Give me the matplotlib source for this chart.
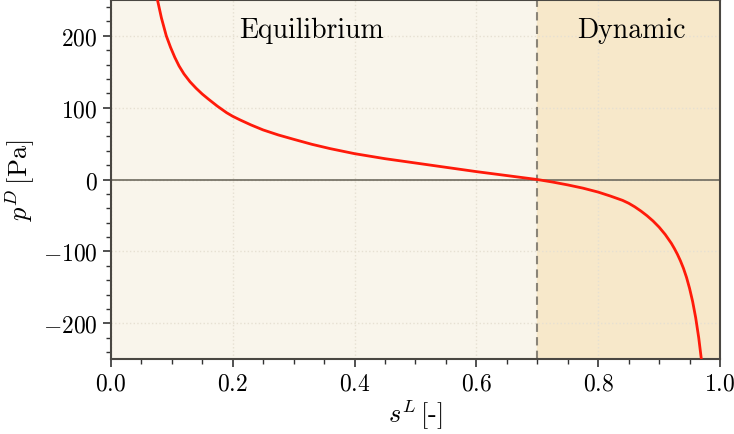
import matplotlib
matplotlib.use("Agg")
import matplotlib.pyplot as plt
from matplotlib.ticker import MultipleLocator

plt.rcParams['font.family'] = 'serif'
plt.rcParams['font.serif'] = ['cmr10', 'DejaVu Serif']
plt.rcParams['mathtext.fontset'] = 'cm'
plt.rcParams['axes.formatter.use_mathtext'] = True

# liquid saturation vs. dynamic pressure
s_liq = [0.076, 0.083, 0.091, 0.098, 0.105, 0.112, 0.12, 0.13, 0.14, 0.15,
         0.16, 0.175, 0.19, 0.2, 0.212, 0.23, 0.25, 0.275, 0.3, 0.33,
         0.36, 0.4, 0.45, 0.5, 0.55, 0.6, 0.65, 0.7, 0.725, 0.75,
         0.775, 0.8, 0.82, 0.84, 0.85, 0.86, 0.87, 0.88, 0.89, 0.9,
         0.91, 0.92, 0.925, 0.93, 0.935, 0.94, 0.945, 0.95, 0.955, 0.96,
         0.965, 0.9696]
p_dyn = [252, 225, 200, 184, 170, 158, 147, 136, 127, 119,
         112, 102, 93, 88, 83, 76, 69, 62, 56, 49,
         43, 36, 29, 23, 17, 11, 5.5, 0, -3.5, -7.5,
         -12, -17.5, -23, -29, -33, -38, -43.8, -50.3, -57.7, -66.3,
         -76.5, -88.7, -96, -104, -113.2, -123.7, -136.3, -151.6, -169.8, -192.3,
         -220.3, -252]

s_split = 0.7
regions = ["Equilibrium", "Dynamic"]

fig = plt.figure(figsize=(7.34, 4.35), dpi=100)
ax = fig.add_axes([0.151, 0.172, 0.830, 0.826])

ax.axvspan(0, s_split, color="#f9f5eb", zorder=0)
ax.axvspan(s_split, 1, color="#f7e8ca", zorder=0)
ax.axhline(0, color="#6e6a5e", lw=1.2, zorder=2)
ax.axvline(s_split, color="#8a8478", lw=1.5, ls=(0, (4, 2.5)), zorder=2)
ax.plot(s_liq, p_dyn, color="#ff1a0a", lw=2, zorder=3)

ax.text(0.33, 208, regions[0], fontsize=20, ha="center", va="center")
ax.text(0.854, 208, regions[1], fontsize=20, ha="center", va="center")

ax.set_xlim(0, 1)
ax.set_ylim(-250, 250)
ax.xaxis.set_major_locator(MultipleLocator(0.2))
ax.xaxis.set_minor_locator(MultipleLocator(0.05))
ax.yaxis.set_major_locator(MultipleLocator(100))
ax.yaxis.set_minor_locator(MultipleLocator(20))
ax.grid(True, which="major", color="#e6e0d2", ls=":", lw=1)

ax.tick_params(which="major", length=6, width=1.2, labelsize=17, colors="#333333",
               labelcolor="black")
ax.tick_params(which="minor", length=3.5, width=1.0, colors="#333333")
for sp in ax.spines.values():
    sp.set_color("#4a4742")
    sp.set_linewidth(1.5)

ax.set_xlabel(r"$s^L\,$[-]", fontsize=19, labelpad=2)
ax.set_ylabel(r"$p^D\,$[Pa]", fontsize=19, labelpad=4)

fig.savefig("out.png", dpi=100)
